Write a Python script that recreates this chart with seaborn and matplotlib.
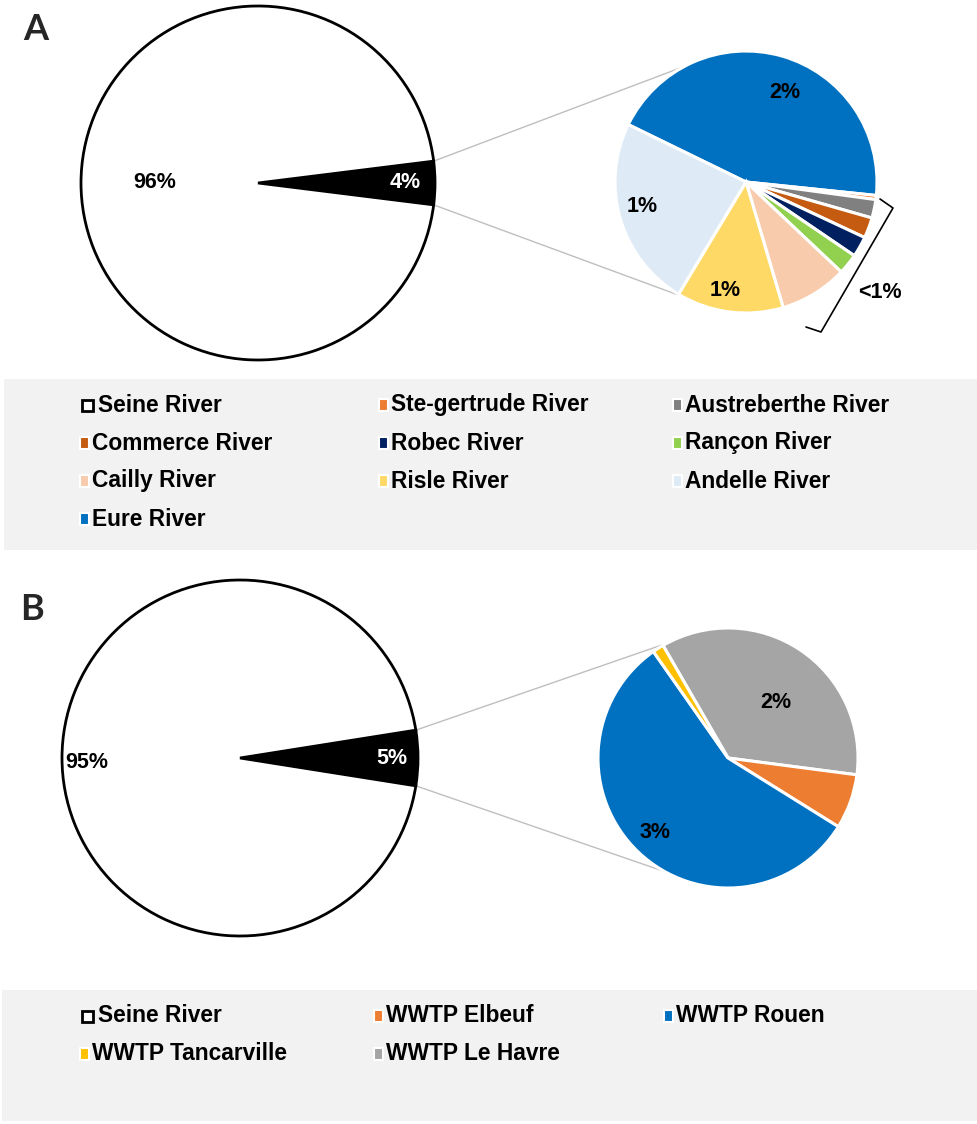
import numpy as np
import matplotlib
matplotlib.use("Agg")
import matplotlib.pyplot as plt
from matplotlib.patches import Rectangle
import seaborn as sns

# ---------------- data ----------------
# Panel A (shares of total, %)
seine_share_a = 96.06
tributaries_a = ["Eure River", "Ste-gertrude River", "Austreberthe River", "Commerce River",
                 "Robec River", "Rançon River", "Cailly River", "Risle River", "Andelle River"]
tributary_values_a = [1.75, 0.02, 0.09, 0.10, 0.10, 0.10, 0.33, 0.52, 0.93]
tributary_colors_a = ["#0070C0", "#ED7D31", "#808080", "#C55A11", "#002060",
                      "#92D050", "#F8CBAD", "#FFD966", "#DEEBF7"]
big_labels_a = ["96%", "4%"]
small_labels_a = {"Eure River": "2%", "Andelle River": "1%", "Risle River": "1%"}
legend_a = ["Seine River", "Ste-gertrude River", "Austreberthe River", "Commerce River",
            "Robec River", "Rançon River", "Cailly River", "Risle River", "Andelle River",
            "Eure River"]

# Panel B
seine_share_b = 95.0
sources_b = ["WWTP Le Havre", "WWTP Elbeuf", "WWTP Rouen", "WWTP Tancarville"]
source_values_b = [1.77, 0.34, 2.82, 0.07]
source_colors_b = ["#A5A5A5", "#ED7D31", "#0070C0", "#FFC000"]
big_labels_b = ["95%", "5%"]
small_labels_b = {"WWTP Le Havre": "2%", "WWTP Rouen": "3%"}
legend_b = ["Seine River", "WWTP Elbeuf", "WWTP Rouen", "WWTP Tancarville", "WWTP Le Havre"]

# ---------------- style ----------------
sns.set_theme(style="white")
plt.rcParams['font.family'] = ['Liberation Sans', 'DejaVu Sans']

W, H = 977, 1124
def Y(y):
    return H - y

fig = plt.figure(figsize=(W / 100, H / 100), dpi=100)
ax = fig.add_axes([0, 0, 1, 1])

color_lookup = dict(zip(tributaries_a, tributary_colors_a))
color_lookup.update(dict(zip(sources_b, source_colors_b)))
color_lookup["Seine River"] = "white"

LINE_COLOR = "#BFBFBF"
TXT = dict(fontsize=15.5, fontweight="bold", ha="center", va="center")


def bar_of_pie(big_c, big_r, seine, parts, colors, small_c, small_r, start, labels,
               names, big_lab, big_lab_pos, small_lab_pos):
    other = sum(parts)
    half = 360 * other / (other + seine) / 2
    ax.pie([other, seine], colors=["black", "white"], startangle=-half,
           center=big_c, radius=big_r,
           wedgeprops=dict(edgecolor="black", linewidth=2), normalize=True)
    # connector lines
    for sgn, ang in [(1, 118), (-1, 241)]:
        p0 = (big_c[0] + big_r * np.cos(np.radians(sgn * half)),
              big_c[1] + big_r * np.sin(np.radians(sgn * half)))
        p1 = (small_c[0] + small_r * np.cos(np.radians(ang)),
              small_c[1] + small_r * np.sin(np.radians(ang)))
        ax.plot([p0[0], p1[0]], [p0[1], p1[1]], color=LINE_COLOR, lw=1, zorder=0)
    ax.pie(parts, colors=colors, startangle=start, counterclock=False,
           center=small_c, radius=small_r,
           wedgeprops=dict(edgecolor="white", linewidth=2.2), normalize=True)
    # big pie labels
    ax.text(big_lab_pos[0][0], Y(big_lab_pos[0][1]), big_lab[0], color="black", **TXT)
    ax.text(big_lab_pos[1][0], Y(big_lab_pos[1][1]), big_lab[1], color="white", **TXT)
    for name, (x, y) in small_lab_pos.items():
        ax.text(x, Y(y), labels[name], color="black", **TXT)


# Panel A
bar_of_pie((258, Y(183)), 177, seine_share_a, tributary_values_a, tributary_colors_a,
           (746, Y(182)), 131, 154, small_labels_a, tributaries_a,
           big_labels_a, [(155, 183), (405, 183)],
           {"Eure River": (785, 92), "Andelle River": (642, 207), "Risle River": (725, 290)})
# bracket for small slices
bx = [880, 893, 821, 806]
by = [199, 208, 332, 327]
ax.plot(bx, [Y(v) for v in by], color="black", lw=1.2)
ax.text(880, Y(292), "<1%", color="black", **TXT)

# Panel B
bar_of_pie((240, Y(758)), 178, seine_share_b, source_values_b, source_colors_b,
           (728, Y(758)), 130, 120, small_labels_b, sources_b,
           big_labels_b, [(87, 763), (392, 758)],
           {"WWTP Le Havre": (776, 703), "WWTP Rouen": (655, 833)})

# Panel letters
ax.text(36, Y(29), "A", fontsize=26, fontweight="bold", ha="center", va="center",
        family=["Lato", "DejaVu Sans"])
ax.text(32, Y(610), "B", fontsize=26, fontweight="bold", ha="center", va="center",
        family=["Lato", "DejaVu Sans"])


# Legends
def legend_block(box, names, col_x, row_y):
    x0, y0, x1, y1 = box
    ax.add_patch(Rectangle((x0, Y(y1)), x1 - x0, y1 - y0, facecolor="#F2F2F2",
                           edgecolor="none", zorder=0))
    for i, name in enumerate(names):
        cx = col_x[i % 3]
        cy = row_y[i // 3]
        if name == "Seine River":
            ax.add_patch(Rectangle((cx + 1.5, Y(cy) - 5.5), 11, 11, facecolor="white",
                                   edgecolor="black", lw=2))
            tx = cx + 18
        else:
            ax.add_patch(Rectangle((cx, Y(cy) - 6), 9, 12, facecolor=color_lookup[name],
                                   edgecolor="white", lw=1.5))
            tx = cx + 12
        ax.text(tx, Y(cy), name, fontsize=16.4, fontweight="bold", ha="left", va="center",
                color="black")


legend_block((4, 379, 977, 550), legend_a, [80, 379, 673], [405, 443, 481, 519])
legend_block((2, 990, 977, 1121), legend_b, [80, 374, 664], [1016, 1054])

ax.set_xlim(0, W)
ax.set_ylim(0, H)
ax.set_aspect("auto")
ax.axis("off")

fig.savefig("out.png", dpi=100, facecolor="white")
